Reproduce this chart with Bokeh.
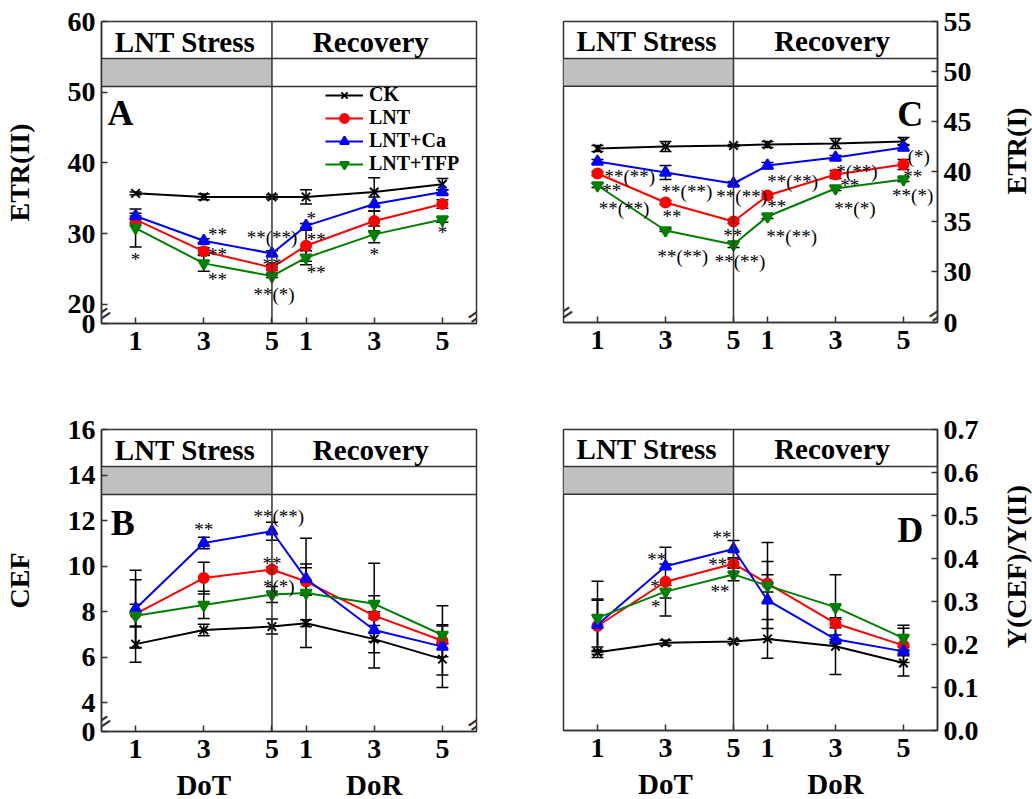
import math
from bokeh.plotting import figure
from bokeh.layouts import column, row
from bokeh.models import (ColumnDataSource, Whisker, TeeHead, Span, Label, FixedTicker,
                          CustomJSTickFormatter, LinearAxis, Legend, LegendItem, Range1d)
from bokeh.embed import file_html
from bokeh.resources import INLINE

# ---------------- data ----------------
days = [1, 3, 5, 6, 8, 10]          # DoT 1,3,5 then DoR 1,3,5 on a continuous day axis
day_labels = ["1", "3", "5", "1", "3", "5"]
series = ["CK", "LNT", "LNT+Ca", "LNT+TFP"]

# A: ETR(II)
etr2_ck = [35.7, 35.2, 35.2, 35.2, 35.9, 37.0]
etr2_lnt = [32.0, 27.5, 25.2, 28.3, 31.8, 34.2]
etr2_ca = [32.5, 29.0, 27.2, 31.1, 34.2, 35.9]
etr2_tfp = [30.8, 25.8, 24.0, 26.6, 29.9, 32.0]
etr2_ck_err = [0.2, 0.4, 0.3, 1.0, 2.0, 0.8]
etr2_lnt_err = [0.5, 0.5, 0.4, 2.2, 1.4, 0.6]
etr2_ca_err = [0.4, 0.3, 0.4, 0.35, 1.0, 0.3]
etr2_tfp_err = [2.7, 1.1, 0.2, 1.0, 1.2, 0.4]

# C: ETR(I)
etr1_ck = [42.3, 42.5, 42.6, 42.7, 42.8, 43.0]
etr1_lnt = [39.8, 36.9, 35.0, 37.6, 39.7, 40.7]
etr1_ca = [41.0, 39.9, 38.8, 40.6, 41.4, 42.4]
etr1_tfp = [38.6, 34.1, 32.7, 35.5, 38.3, 39.2]
etr1_ck_err = [0.3, 0.5, 0.1, 0.3, 0.5, 0.4]
etr1_lnt_err = [0.2, 0.2, 0.2, 0.2, 0.4, 0.5]
etr1_ca_err = [0.2, 0.7, 0.2, 0.3, 0.2, 0.3]
etr1_tfp_err = [0.2, 0.1, 0.3, 0.2, 0.2, 0.2]

# B: CEF
cef_ck = [6.57, 7.19, 7.34, 7.49, 6.79, 5.91]
cef_lnt = [7.90, 9.47, 9.85, 9.32, 7.82, 6.72]
cef_ca = [8.12, 11.01, 11.53, 9.44, 7.19, 6.46]
cef_tfp = [7.82, 8.29, 8.75, 8.82, 8.34, 6.97]
cef_ck_err = [0.8, 0.25, 0.33, 0.15, 0.6, 0.7]
cef_lnt_err = [1.5, 0.7, 0.1, 0.6, 2.3, 0.7]
cef_ca_err = [1.7, 0.25, 0.4, 0.65, 0.5, 1.8]
cef_tfp_err = [0.5, 0.6, 0.35, 2.4, 0.35, 0.4]

# D: Y(CEF)/Y(II)
ycef_ck = [0.182, 0.204, 0.207, 0.213, 0.196, 0.157]
ycef_lnt = [0.243, 0.346, 0.388, 0.342, 0.249, 0.198]
ycef_ca = [0.246, 0.382, 0.422, 0.303, 0.212, 0.184]
ycef_tfp = [0.262, 0.323, 0.363, 0.337, 0.287, 0.215]
ycef_ck_err = [0.012, 0.006, 0.005, 0.045, 0.066, 0.03]
ycef_lnt_err = [0.06, 0.08, 0.01, 0.02, 0.01, 0.04]
ycef_ca_err = [0.06, 0.005, 0.02, 0.09, 0.01, 0.01]
ycef_tfp_err = [0.085, 0.015, 0.015, 0.1, 0.075, 0.03]

# significance marks: (text, x, y)
stars_a = [("*", 1.0, 26.4), ("**", 3.4, 29.9), ("**", 3.4, 27.1), ("**", 3.4, 23.5),
           ("**(**)", 5.0, 29.5), ("**", 5.0, 25.7), ("**(*)", 5.06, 21.4),
           ("*", 6.15, 32.2), ("**", 6.3, 29.2), ("**", 6.3, 24.5),
           ("*", 8.0, 27.1), ("*", 10.0, 30.2)]
stars_c = [("**(**)", 1.95, 39.5), ("**", 1.42, 38.1), ("**(**)", 1.78, 36.3),
           ("**(**)", 3.63, 38.0), ("**", 3.19, 35.5), ("**(**)", 3.51, 31.5),
           ("**(**)", 5.24, 37.5), ("**", 4.98, 33.6), ("**(**)", 5.19, 31.0),
           ("**(**)", 6.74, 39.0), ("**", 6.27, 36.5), ("**(**)", 6.71, 33.5),
           ("*(**)", 8.63, 40.0), ("**", 8.42, 38.6), ("**(*)", 8.57, 36.3),
           ("(*)", 10.45, 41.5), ("**", 10.27, 39.5), ("**(*)", 10.27, 37.6)]
stars_b = [("**", 3.0, 11.6), ("**(**)", 5.2, 12.18), ("**", 5.0, 10.1), ("*(*)", 5.2, 9.1)]
stars_d = [("**", 2.74, 0.398), ("*", 2.69, 0.335), ("*", 2.71, 0.288),
           ("**", 4.66, 0.449), ("**", 4.54, 0.386), ("**", 4.6, 0.323)]

colors = ["black", "#FF0000", "#0000FF", "#008000"]
markers = ["x", "circle", "triangle", "inverted_triangle"]
msizes = [12, 10, 11, 11]
FONT = "Liberation Serif"


def style_axis(ax, size="28px"):
    ax.axis_line_color = "#333333"
    ax.axis_line_width = 1.5
    ax.major_tick_in = 6
    ax.major_tick_out = 0
    ax.major_tick_line_color = "#333333"
    ax.major_tick_line_width = 1.5
    ax.minor_tick_line_color = None
    ax.major_label_text_font = FONT
    ax.major_label_text_font_style = "bold"
    ax.major_label_text_font_size = size
    ax.major_label_text_color = "black"
    ax.axis_label_text_font = FONT
    ax.axis_label_text_font_style = "bold"
    ax.axis_label_text_font_size = "28px"
    ax.axis_label_text_color = "black"


def make_panel(vals, errs, ylo, yhi, yticks, ycode, ylabel, side, letter, letter_xy,
               stars, breaks, borders, fw, fh, legend_loc=None, bottom_titles=False):
    bl, br, bt, bb = borders
    p = figure(frame_width=fw, frame_height=fh, x_range=Range1d(0, 11),
               y_range=Range1d(ylo, yhi), output_backend="svg", toolbar_location=None,
               y_axis_location=side, min_border_left=bl, min_border_right=br,
               min_border_top=bt, min_border_bottom=bb)
    p.grid.visible = False
    p.outline_line_color = "#333333"
    p.outline_line_width = 1.5
    p.background_fill_color = "white"
    p.border_fill_color = "white"

    H = yhi - ylo
    r1 = yhi - H * 37.0 / 302.0
    r2 = yhi - H * 65.0 / 302.0
    p.quad(left=[0], right=[5], bottom=[r2], top=[r1], fill_color="#C0C0C0", line_color=None)
    p.add_layout(Span(location=r1, dimension="width", line_color="#333333", line_width=1.5))
    p.add_layout(Span(location=r2, dimension="width", line_color="#333333", line_width=1.5))
    p.add_layout(Span(location=5, dimension="height", line_color="#333333", line_width=1.5))
    ymid = (yhi + r1) / 2 - H * 1.5 / 302.0
    for txt, xx in (("LNT Stress", 2.45), ("Recovery", 7.9)):
        p.add_layout(Label(x=xx, y=ymid, text=txt, text_font=FONT, text_font_style="bold",
                           text_font_size="29px", text_align="center", text_baseline="middle",
                           text_color="black"))

    items = []
    for i, name in enumerate(series):
        v = vals[i]
        e = errs[i]
        src = ColumnDataSource(dict(x=days, y=v, upper=[a + b for a, b in zip(v, e)],
                                    lower=[a - b for a, b in zip(v, e)]))
        w = Whisker(source=src, base="x", upper="upper", lower="lower", dimension="height",
                    line_color="black", line_width=1.5,
                    upper_head=TeeHead(size=12, line_color="black", line_width=1.5),
                    lower_head=TeeHead(size=12, line_color="black", line_width=1.5))
        p.add_layout(w)
        ln = p.line("x", "y", source=src, line_color=colors[i], line_width=2)
        sc = p.scatter("x", "y", source=src, marker=markers[i], size=msizes[i],
                       fill_color=colors[i], line_color=colors[i], line_width=2)
        items.append(LegendItem(label=name, renderers=[ln, sc]))

    if legend_loc is not None:
        lg = Legend(items=items, location=legend_loc, padding=0, margin=0, spacing=0,
                    border_line_color=None, background_fill_alpha=0, glyph_width=38,
                    glyph_height=22, label_height=22, label_standoff=6,
                    label_text_font=FONT, label_text_font_style="bold",
                    label_text_font_size="20px", label_text_color="black")
        p.add_layout(lg)

    for txt, xx, yy in stars:
        p.add_layout(Label(x=xx, y=yy, text=txt, text_font=FONT, text_font_size="19px",
                           text_align="center", text_baseline="middle", text_color="black"))

    p.add_layout(Label(x=letter_xy[0], y=letter_xy[1], text=letter, text_font=FONT,
                       text_font_style="bold", text_font_size="36px", text_align="center",
                       text_baseline="middle", text_color="black"))

    for bx in breaks:
        p.add_layout(Label(x=bx, y=ylo + H * 9.0 / 302.0, text="=", text_font="DejaVu Sans",
                           text_font_size="26px", angle=0.6, text_align="center",
                           text_baseline="middle", text_color="#333333"))

    xa = p.xaxis[0]
    xa.ticker = FixedTicker(ticks=days)
    xa.formatter = CustomJSTickFormatter(
        args=dict(d=days, lab=day_labels),
        code="const i = d.indexOf(tick); return i >= 0 ? lab[i] : '';")
    style_axis(xa)
    xa.major_label_standoff = 8

    ya = p.yaxis[0]
    ya.ticker = FixedTicker(ticks=yticks)
    ya.formatter = CustomJSTickFormatter(code=ycode)
    style_axis(ya)
    ya.major_label_standoff = 6
    if side == "left":
        ya.axis_label = ylabel
        ya.axis_label_standoff = 30

    if bottom_titles:
        ax2 = LinearAxis(ticker=FixedTicker(ticks=[3, 8]),
                         formatter=CustomJSTickFormatter(code="return tick == 3 ? 'DoT' : 'DoR';"))
        style_axis(ax2, size="29px")
        ax2.axis_line_color = None
        ax2.major_tick_line_color = None
        ax2.major_label_standoff = 8
        p.add_layout(ax2, "below")
    return p


def side_title(text, height, ymid):
    # narrow strip holding a right-hand axis title that reads bottom-to-top
    t = figure(width=33, height=height, output_backend="svg", toolbar_location=None,
               x_range=Range1d(0, 1), y_range=Range1d(0, 1), x_axis_location=None,
               y_axis_location=None, min_border=0)
    t.grid.visible = False
    t.outline_line_color = None
    t.add_layout(Label(x=0.5, y=ymid, text=text, text_font=FONT, text_font_style="bold",
                       text_font_size="28px", angle=math.pi / 2, text_align="center",
                       text_baseline="middle", text_color="black"))
    return t


pa = make_panel([etr2_ck, etr2_lnt, etr2_ca, etr2_tfp],
                [etr2_ck_err, etr2_lnt_err, etr2_ca_err, etr2_tfp_err],
                17.3, 60, [17.3, 20, 30, 40, 50, 60],
                "return tick < 19 ? '0' : tick.toFixed(0);", "ETR(II)", "left", "A",
                (0.56, 47.1), stars_a, [0, 11], (101, 44, 20, 78), 375, 302,
                legend_loc=(224, 148))
pc = make_panel([etr1_ck, etr1_lnt, etr1_ca, etr1_tfp],
                [etr1_ck_err, etr1_lnt_err, etr1_ca_err, etr1_tfp_err],
                24.9, 55, [24.9, 30, 35, 40, 45, 50, 55],
                "return tick < 26 ? '0' : tick.toFixed(0);", "ETR(I)", "right", "C",
                (10.2, 45.8), stars_c, [0, 11], (43, 62, 21, 78), 374, 301)
pb = make_panel([cef_ck, cef_lnt, cef_ca, cef_tfp],
                [cef_ck_err, cef_lnt_err, cef_ca_err, cef_tfp_err],
                2.73, 16, [2.73, 4, 6, 8, 10, 12, 14, 16],
                "return tick < 3 ? '0' : tick.toFixed(0);", "CEF", "left", "B",
                (0.62, 11.87), stars_b, [0, 11], (101, 44, 29, 68), 375, 302,
                bottom_titles=True)
pd_ = make_panel([ycef_ck, ycef_lnt, ycef_ca, ycef_tfp],
                 [ycef_ck_err, ycef_lnt_err, ycef_ca_err, ycef_tfp_err],
                 0, 0.7, [0, 0.1, 0.2, 0.3, 0.4, 0.5, 0.6, 0.7],
                 "return tick.toFixed(1);", "Y(CEF)/Y(II)", "right", "D",
                 (10.2, 0.467), stars_d, [], (43, 62, 23, 75), 374, 301,
                 bottom_titles=True)

tc = side_title("ETR(I)", 400, 0.57)
td = side_title("Y(CEF)/Y(II)", 399, 0.535)

layout = column(row(pa, pc, tc), row(pb, pd_, td))
open("out.html", "w").write(file_html(layout, INLINE))
